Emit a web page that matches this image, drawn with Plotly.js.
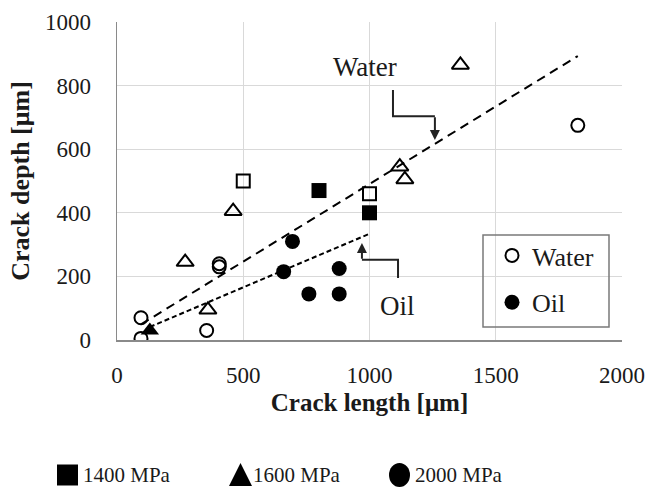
<!DOCTYPE html>
<html>
<head>
<meta charset="utf-8">
<script src="https://cdn.plot.ly/plotly-3.0.1.min.js"></script>
<style>html,body{margin:0;padding:0;background:#fff;}#chart{width:650px;height:489px;}</style>
</head>
<body>
<div id="chart"></div>
<script>
// ---- Data ----
// Water = open markers, Oil = filled markers
// 1400 MPa = square, 1600 MPa = triangle, 2000 MPa = circle
const water1400X = [500, 1000];
const water1400Y = [500, 460];
const oil1400X = [800, 1000];
const oil1400Y = [470, 400];
const water1600X = [270, 360, 460, 1120, 1140, 1360];
const water1600Y = [245, 95, 405, 545, 505, 865];
const oil1600X = [130];
const oil1600Y = [30];
const water2000X = [95, 95, 355, 405, 405, 1825];
const water2000Y = [70, 5, 30, 240, 230, 675];
const oil2000X = [660, 695, 760, 880, 880];
const oil2000Y = [215, 310, 145, 225, 145];
// Trend lines
const waterTrendX = [95, 1825];
const waterTrendY = [49, 893];
const oilTrendX = [130, 1000];
const oilTrendY = [41, 334];
// Labels
const mediumNames = ['Water', 'Oil'];
const pressureNames = ['1400 MPa', '1600 MPa', '2000 MPa'];
const xTitle = 'Crack length [μm]';
const yTitle = 'Crack depth [μm]';

const FONT = 'Liberation Serif';
const BLK = '#000000';
const TXT = '#1a1a1a';

// helpers to convert pixel positions (layout design) into paper coordinates
const PL = 117, PR = 622, PT = 22, PB = 340;
const px = v => (v - PL) / (PR - PL);
const py = v => (PB - v) / (PB - PT);

function openM(sym, size) {
  return {symbol: sym + '-open', size: size, color: BLK, line: {width: 2, color: BLK}};
}
function fillM(sym, size) {
  return {symbol: sym, size: size, color: BLK, line: {width: 0, color: BLK}};
}

const traces = [
  {x: waterTrendX, y: waterTrendY, mode: 'lines', line: {color: BLK, width: 2, dash: '9px,6px'}, showlegend: false, hoverinfo: 'skip'},
  {x: oilTrendX, y: oilTrendY, mode: 'lines', line: {color: BLK, width: 2, dash: '5px,3px'}, showlegend: false, hoverinfo: 'skip'},
  {x: water1400X, y: water1400Y, mode: 'markers', marker: openM('square', 13), showlegend: false},
  {x: oil1400X, y: oil1400Y, mode: 'markers', marker: fillM('square', 15), showlegend: false},
  {x: water1600X, y: water1600Y, mode: 'markers', marker: openM('triangle-up', 15), showlegend: false},
  {x: oil1600X, y: oil1600Y, mode: 'markers', marker: fillM('triangle-up', 16), showlegend: false},
  {x: water2000X, y: water2000Y, mode: 'markers', marker: openM('circle', 13), name: mediumNames[0], legendgroup: 'w'},
  {x: oil2000X, y: oil2000Y, mode: 'markers', marker: fillM('circle', 15), name: mediumNames[1], legendgroup: 'o'}
];

const axisCommon = {
  showgrid: true, gridcolor: '#d9d9d9', gridwidth: 1,
  showline: true, linecolor: '#8a8a8a', linewidth: 1.5,
  zeroline: false, ticks: '',
  tickfont: {family: FONT, size: 23, color: TXT},
  fixedrange: true
};

// Pressure key (bottom): symbol shapes + labels
const keyY = 475;
const keyShapes = [
  {type: 'rect', xref: 'paper', yref: 'paper', x0: px(57), x1: px(78), y0: py(485.5), y1: py(464.5),
   line: {width: 0}, fillcolor: BLK},
  {type: 'path', xref: 'paper', yref: 'paper',
   path: 'M ' + px(229) + ',' + py(486) + ' L ' + px(252) + ',' + py(486) + ' L ' + px(240.5) + ',' + py(463) + ' Z',
   line: {width: 0}, fillcolor: BLK},
  {type: 'circle', xref: 'paper', yref: 'paper', x0: px(389), x1: px(410), y0: py(487), y1: py(463),
   line: {width: 0}, fillcolor: BLK}
];
const keyTextX = [81, 251, 413];
const keyAnn = pressureNames.map((t, i) => ({
  x: px(keyTextX[i]), y: py(keyY), xref: 'paper', yref: 'paper', xanchor: 'left', yanchor: 'middle',
  text: t, showarrow: false, font: {family: FONT, size: 21, color: TXT}
}));

const layout = {
  width: 650, height: 489,
  margin: {l: PL, r: 650 - PR, t: PT, b: 489 - PB, autoexpand: false},
  paper_bgcolor: '#ffffff', plot_bgcolor: '#ffffff',
  font: {family: FONT, color: TXT},
  xaxis: Object.assign({}, axisCommon, {
    range: [0, 2000], tick0: 0, dtick: 500, ticklabelstandoff: 14,
    title: {text: xTitle, font: {family: FONT, size: 25, weight: 'bold', color: TXT}, standoff: 6}
  }),
  yaxis: Object.assign({}, axisCommon, {
    range: [0, 1000], tick0: 0, dtick: 200, ticklabelstandoff: 20,
    title: {text: yTitle, font: {family: FONT, size: 26, weight: 'bold', color: TXT}, standoff: 8}
  }),
  showlegend: true,
  legend: {
    x: px(492), y: py(232), xanchor: 'left', yanchor: 'top',
    bgcolor: 'rgba(0,0,0,0)', borderwidth: 0,
    font: {family: FONT, size: 26, color: TXT},
    traceorder: 'grouped', tracegroupgap: 10
  },
  shapes: [
    {type: 'rect', xref: 'paper', yref: 'paper', x0: px(483), x1: px(609), y0: py(327), y1: py(235),
     line: {color: '#7a7a7a', width: 1.5}, fillcolor: 'rgba(0,0,0,0)'},
    {type: 'path', xref: 'x', yref: 'y', path: 'M 1093,786 L 1093,704 L 1259,704',
     line: {color: '#222', width: 2}},
    {type: 'path', xref: 'x', yref: 'y', path: 'M 1113,195 L 1113,252 L 970,252',
     line: {color: '#222', width: 2}}
  ].concat(keyShapes),
  annotations: [
    {x: 982, y: 858, xref: 'x', yref: 'y', text: 'Water', showarrow: false,
     font: {family: FONT, size: 27, color: TXT}},
    {x: 1111, y: 107, xref: 'x', yref: 'y', text: 'Oil', showarrow: false,
     font: {family: FONT, size: 27, color: TXT}},
    {x: 1259, y: 629, ax: 1259, ay: 705, xref: 'x', yref: 'y', axref: 'x', ayref: 'y',
     text: '', showarrow: true, arrowhead: 2, arrowsize: 1, arrowwidth: 2, arrowcolor: '#222'},
    {x: 970, y: 305, ax: 970, ay: 251, xref: 'x', yref: 'y', axref: 'x', ayref: 'y',
     text: '', showarrow: true, arrowhead: 2, arrowsize: 1, arrowwidth: 2, arrowcolor: '#222'}
  ].concat(keyAnn)
};

Plotly.newPlot('chart', traces, layout, {displayModeBar: false, staticPlot: true});
</script>
</body>
</html>
